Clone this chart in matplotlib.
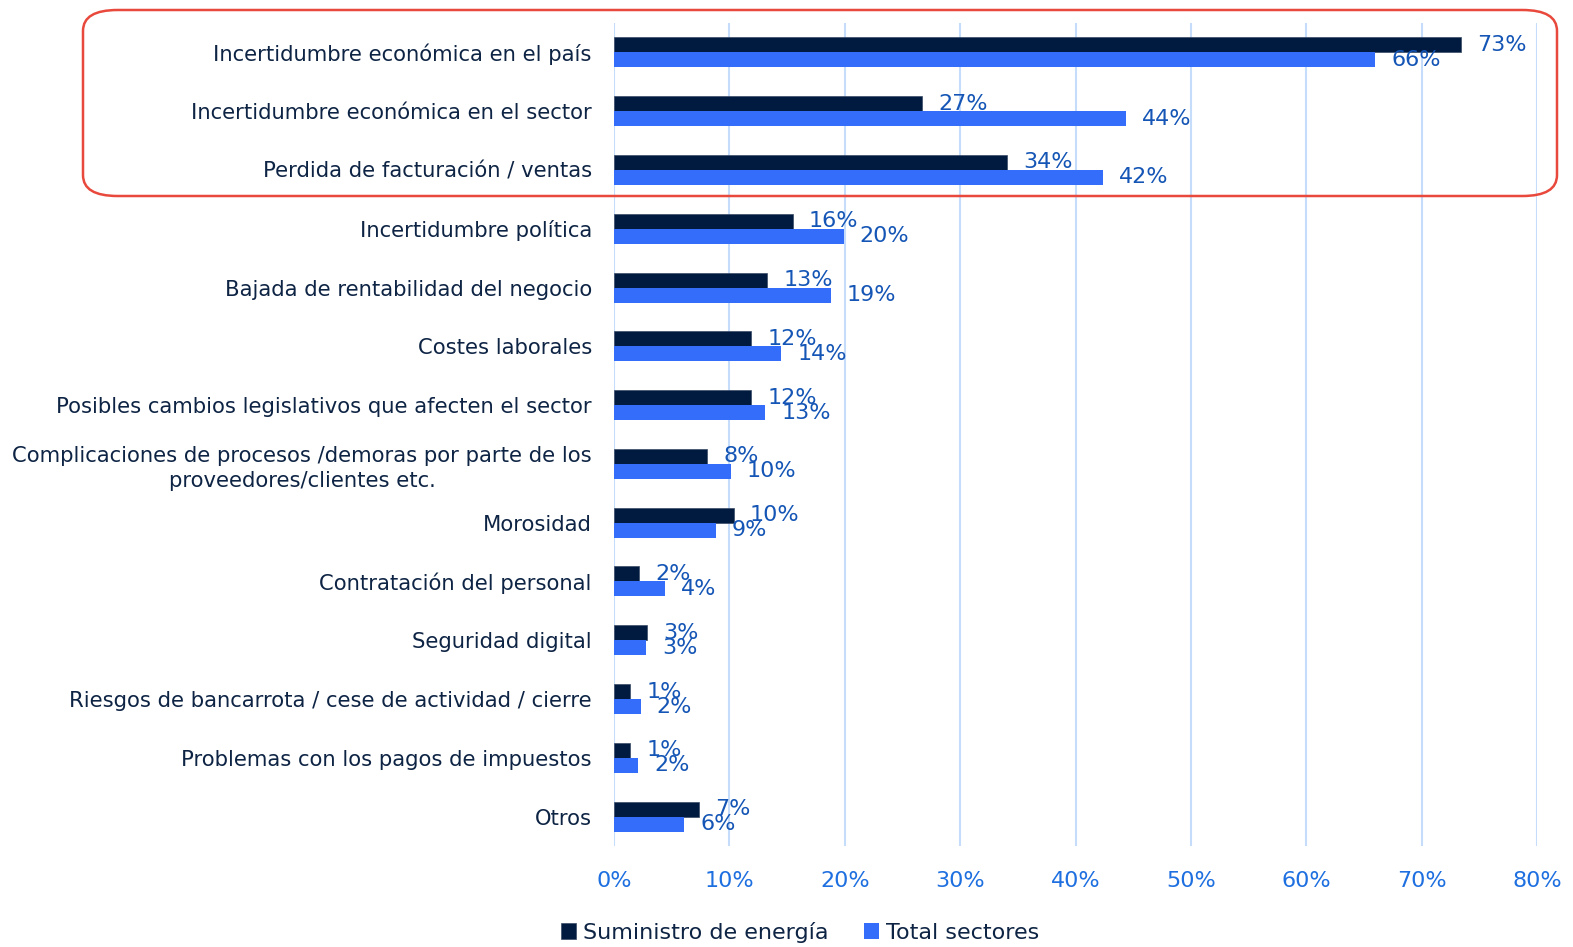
import numpy as np
import matplotlib
matplotlib.use("Agg")
import matplotlib.pyplot as plt
from matplotlib.patches import FancyBboxPatch

# datos (porcentaje)
categorias = [
    "Incertidumbre económica en el país",
    "Incertidumbre económica en el sector",
    "Perdida de facturación / ventas",
    "Incertidumbre política",
    "Bajada de rentabilidad del negocio",
    "Costes laborales",
    "Posibles cambios legislativos que afecten el sector",
    "Complicaciones de procesos /demoras por parte de los\nproveedores/clientes etc.",
    "Morosidad",
    "Contratación del personal",
    "Seguridad digital",
    "Riesgos de bancarrota / cese de actividad / cierre",
    "Problemas con los pagos de impuestos",
    "Otros",
]
energia = [73.4, 26.7, 34.1, 15.5, 13.3, 11.9, 11.9, 8.1, 10.4, 2.2, 2.9, 1.4, 1.4, 7.4]
total = [66.0, 44.4, 42.4, 19.9, 18.8, 14.5, 13.1, 10.1, 8.8, 4.4, 2.8, 2.3, 2.1, 6.1]
xticks = [0, 10, 20, 30, 40, 50, 60, 70, 80]

c_dark = "#001b3f"
c_blue = "#336dfa"
c_label = "#1455b5"
c_tick = "#1e6fe0"
c_text = "#0e2444"

fig = plt.figure(figsize=(15.73, 9.47), dpi=100)
ax = fig.add_axes([614 / 1573, 1 - 846 / 947, (1537 - 614) / 1573, (846 - 23) / 947])

y = np.arange(len(categorias))
h = 0.255
ax.barh(y - h / 2, energia, height=h, color=c_dark, edgecolor="#3a4a66", linewidth=0.5,
        label="Suministro de energía", zorder=3)
ax.barh(y + h / 2, total, height=h, color=c_blue, label="Total sectores", zorder=3)

for i in range(len(categorias)):
    ax.annotate(f"{round(energia[i])}%", (energia[i], y[i] - h / 2), xytext=(16, 0),
                textcoords="offset pixels", va="center", ha="left", fontsize=16, color=c_label, zorder=4)
    ax.annotate(f"{round(total[i])}%", (total[i], y[i] + h / 2), xytext=(16, 0),
                textcoords="offset pixels", va="center", ha="left", fontsize=16, color=c_label, zorder=4)

ax.set_xlim(0, 80)
ax.set_ylim(len(categorias) - 0.5, -0.5)
ax.set_xticks(xticks)
ax.set_xticklabels([f"{t}%" for t in xticks], fontsize=16, color=c_tick)
ax.set_yticks(y)
ax.set_yticklabels(categorias, fontsize=15.2, color=c_text, linespacing=1.3)
for lbl in ax.get_yticklabels():
    lbl.set_multialignment("center")
ax.tick_params(axis="both", length=0)
ax.tick_params(axis="y", pad=16)
ax.tick_params(axis="x", pad=18)
ax.grid(axis="x", color="#c5dcfb", linewidth=1.5, zorder=0)
for s in ax.spines.values():
    s.set_visible(False)

# recuadro rojo de las tres primeras
rect = FancyBboxPatch((83 / 1573, 1 - 196 / 947), (1557 - 83) / 1573, (196 - 10) / 947,
                      boxstyle="round,pad=0,rounding_size=0.022", transform=fig.transFigure,
                      facecolor="none", edgecolor="#e8493c", linewidth=1.8, zorder=10)
fig.add_artist(rect)

leg = fig.legend(loc="center", bbox_to_anchor=(800 / 1573, 1 - 932 / 947), ncol=2, frameon=False,
                 fontsize=16, handlelength=0.7, handleheight=0.7, handletextpad=0.3, columnspacing=1.6)
for t in leg.get_texts():
    t.set_color(c_text)

fig.savefig("out.png", dpi=100)
